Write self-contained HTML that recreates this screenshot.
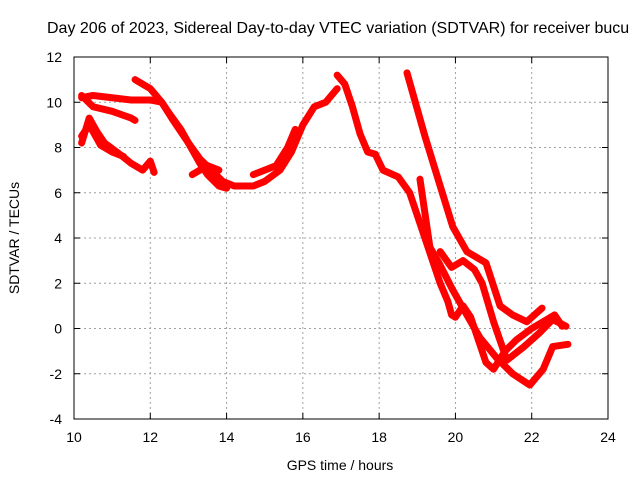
<!DOCTYPE html>
<html><head><meta charset="utf-8"><style>
body{margin:0;background:#fff}
svg text{font-family:"Liberation Sans",sans-serif;font-size:14px;fill:#000}
</style></head><body>
<svg id="chart" width="640" height="480" xmlns="http://www.w3.org/2000/svg">
<rect width="640" height="480" fill="#fff"/>
<text x="47" y="33" style="font-size:16px">Day 206 of 2023, Sidereal Day-to-day VTEC variation (SDTVAR) for receiver bucu</text>
<g id="grid"></g>
<g id="series"></g>
<rect x="74" y="57" width="534" height="362" fill="none" stroke="#000" stroke-width="1"/>
<g id="ticks"></g>
<text x="340" y="470" text-anchor="middle">GPS time / hours</text>
<text transform="translate(19,238) rotate(-90)" text-anchor="middle">SDTVAR / TECUs</text>
</svg>
<script>
const xTicks=[10,12,14,16,18,20,22,24];
const yTicks=[-4,-2,0,2,4,6,8,10,12];
const trackA=[[10.2,10.2],[10.5,10.3],[11,10.2],[11.5,10.1],[12,10.1],[12.3,10],[12.5,9.5],[12.8,8.8],[13,8.2],[13.3,7.5],[13.6,7],[13.9,6.5],[14.2,6.3],[14.7,6.3],[15,6.5],[15.4,7],[15.7,7.8],[16,9],[16.3,9.8],[16.6,10],[16.9,10.6]];
const trackB=[[11.6,11],[12,10.6],[12.3,10],[12.6,9.2],[13,8.2],[13.3,7.3],[13.5,6.8],[13.8,6.3],[14,6.2]];
const trackC=[[13.1,6.8],[13.5,7.2],[13.8,7]];
const trackD=[[10.2,10.3],[10.5,9.8],[11,9.6],[11.5,9.3],[11.6,9.2]];
const trackE=[[10.2,8.2],[10.4,9.3],[10.6,8.7],[10.8,8.2],[11.2,7.7],[11.5,7.3],[11.8,7],[12,7.4],[12.1,6.9]];
const trackF=[[10.2,8.5],[10.4,9.0],[10.7,8.1],[11,7.8],[11.3,7.6]];
const trackG=[[14.7,6.8],[15,7.0],[15.3,7.2],[15.6,8],[15.8,8.8]];
const trackH=[[16.9,11.2],[17.1,10.8],[17.3,9.8],[17.5,8.6],[17.7,7.8],[17.9,7.7],[18.1,7.0],[18.5,6.7],[18.8,6],[19,5],[19.2,4],[19.4,3],[19.6,2],[19.8,1.2],[19.9,0.6],[20,0.5],[20.2,1.0],[20.4,0.5],[20.6,-0.5],[20.8,-1.5],[21.0,-1.8],[21.3,-1.0],[21.6,-0.5],[22,0],[22.4,0.4],[22.6,0.6],[22.8,0.1]];
const trackI=[[18.73,11.3],[19.2,8.5],[19.6,6.3],[19.93,4.5],[20.3,3.4],[20.8,2.9],[21.17,1.0],[21.5,0.6],[21.87,0.3],[22.27,0.9]];
const trackJ=[[19.07,6.6],[19.33,3.6],[19.6,2.8],[19.93,1.7],[20.3,0.6],[20.64,-0.4],[21.08,-1.3],[21.5,-2.0],[21.95,-2.5],[22.3,-1.8],[22.55,-0.8],[22.95,-0.7]];
const trackK=[[19.6,3.4],[19.9,2.7],[20.2,3.0],[20.5,2.6],[20.7,2.0],[21.0,0.3],[21.35,-1.4],[21.8,-0.8],[22.2,-0.2],[22.55,0.4],[22.9,0.1]];
const tracks=[trackA,trackB,trackC,trackD,trackE,trackF,trackG,trackH,trackI,trackJ,trackK];
const X=h=>74+(h-10)*(534/14);
const Y=v=>57+(12-v)*(362/16);
const NS='http://www.w3.org/2000/svg';
const grid=document.getElementById('grid'),ticks=document.getElementById('ticks'),ser=document.getElementById('series');
xTicks.forEach(t=>{
 const x=X(t);
 if(t>10&&t<24){const l=document.createElementNS(NS,'line');l.setAttribute('x1',x);l.setAttribute('x2',x);l.setAttribute('y1',57);l.setAttribute('y2',419);l.setAttribute('stroke','#a0a0a0');l.setAttribute('stroke-dasharray','2,3');
 
 
 grid.appendChild(l);}
 const tk=document.createElementNS(NS,'path');tk.setAttribute('d',`M${x},419v-6M${x},57v6`);tk.setAttribute('stroke','#000');
 
 
 ticks.appendChild(tk);
 const tx=document.createElementNS(NS,'text');tx.setAttribute('x',x);tx.setAttribute('y',442);tx.setAttribute('text-anchor','middle');tx.textContent=t;
 
 
 ticks.appendChild(tx);
});
yTicks.forEach(t=>{
 const y=Y(t);
 if(t>-4&&t<12){const l=document.createElementNS(NS,'line');l.setAttribute('x1',74);l.setAttribute('x2',608);l.setAttribute('y1',y);l.setAttribute('y2',y);l.setAttribute('stroke','#a0a0a0');l.setAttribute('stroke-dasharray','2,3');
 
 
 grid.appendChild(l);}
 const tk=document.createElementNS(NS,'path');tk.setAttribute('d',`M74,${y}h6M608,${y}h-6`);tk.setAttribute('stroke','#000');
 
 
 ticks.appendChild(tk);
 const tx=document.createElementNS(NS,'text');tx.setAttribute('x',62);tx.setAttribute('y',y+5);tx.setAttribute('text-anchor','end');tx.textContent=t;
 
 
 ticks.appendChild(tx);
});
tracks.forEach(tr=>{
 const p=document.createElementNS(NS,'polyline');
 p.setAttribute('points',tr.map(d=>X(d[0])+','+Y(d[1])).join(' '));
 p.setAttribute('fill','none');p.setAttribute('stroke','#ff0000');p.setAttribute('stroke-width','7');p.setAttribute('stroke-linejoin','round');p.setAttribute('stroke-linecap','round');
 
 
 ser.appendChild(p);
});
</script>
</body></html>
